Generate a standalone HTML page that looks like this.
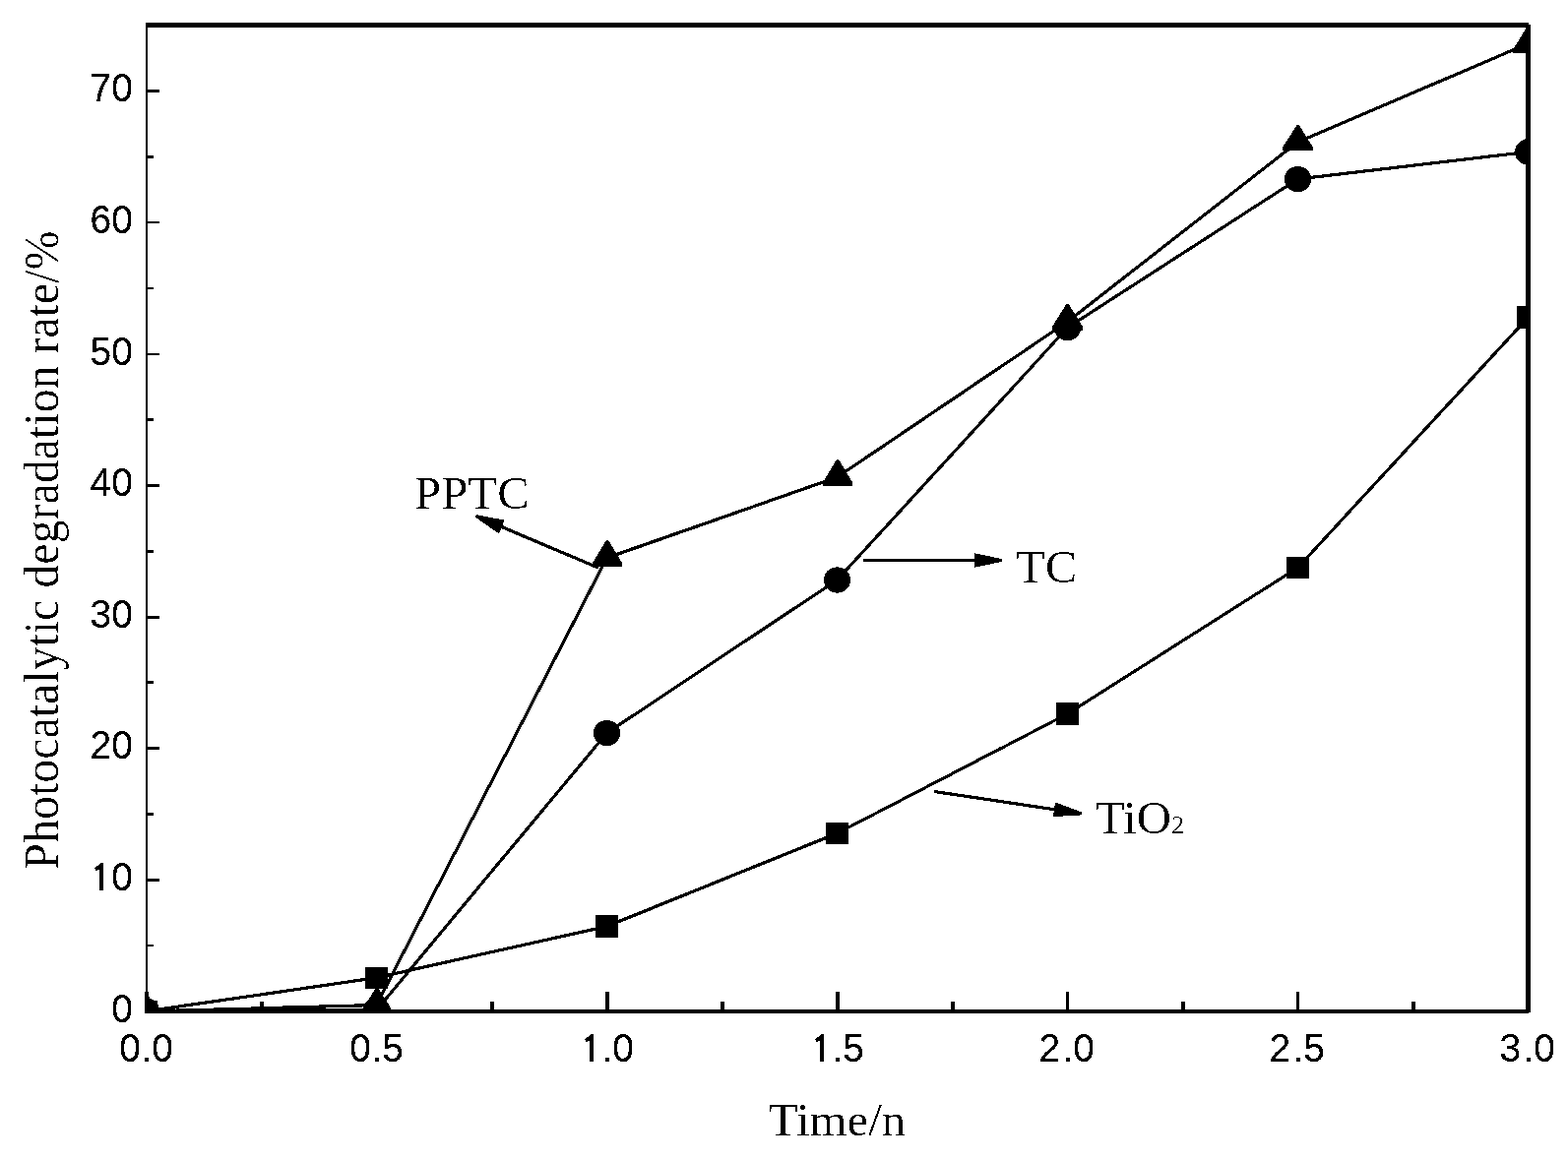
<!DOCTYPE html>
<html lang="en"><head><meta charset="utf-8"><title>Photocatalytic degradation rate</title>
<style>
html,body{margin:0;padding:0;background:#fff;}
body{width:1593px;height:1179px;overflow:hidden;}
svg{display:block;}
.sans{font-family:"Liberation Sans",sans-serif;font-size:39px;fill:#000;}
.serif{font-family:"Liberation Serif",serif;font-size:48px;fill:#000;}
.ln{fill:none;stroke:#000;stroke-width:3.0;stroke-linejoin:round;stroke-linecap:butt;}
.k{fill:#000;stroke:none;}
.one{font-family:"NanumGothic","Liberation Sans",sans-serif;font-size:35.5px;font-weight:bold;}
</style></head><body>
<svg width="1593" height="1179" viewBox="0 0 1593 1179" role="img" aria-label="Photocatalytic degradation rate versus time for PPTC, TC and TiO2">
<title>Photocatalytic degradation rate/% versus Time/n</title>
<desc>Line chart with three series, PPTC (triangles), TC (circles) and TiO2 (squares). X axis Time/n with ticks 0.0 0.5 1.0 1.5 2.0 2.5 3.0. Y axis Photocatalytic degradation rate/% with ticks 0 10 20 30 40 50 60 70.</desc>
<defs><clipPath id="plot"><rect x="147" y="23" width="1408" height="1007"/></clipPath><filter id="thr" filterUnits="userSpaceOnUse" x="0" y="0" width="1593" height="1179" color-interpolation-filters="sRGB"><feComponentTransfer><feFuncR type="discrete" tableValues="0 0 0 1 1"/><feFuncG type="discrete" tableValues="0 0 0 1 1"/><feFuncB type="discrete" tableValues="0 0 0 1 1"/></feComponentTransfer></filter><filter id="thr2" filterUnits="userSpaceOnUse" x="0" y="0" width="1593" height="1179" color-interpolation-filters="sRGB"><feComponentTransfer><feFuncA type="discrete" tableValues="0 0 0 1 1"/></feComponentTransfer></filter></defs>
<g filter="url(#thr)">
<rect x="0" y="0" width="1593" height="1179" fill="#fff"/>
<g clip-path="url(#plot)">
<polyline class="ln" points="148.5,1027.8 382.5,993.8 616.5,941.5 850.5,847.0 1084.5,725.5 1318.5,577.0 1552.5,322.4"/>
<polyline class="ln" points="148.5,1027.5 382.5,1026.7 616.5,745.0 850.5,589.6 1084.5,333.0 1318.5,182.0 1552.5,154.4"/>
<polyline class="ln" points="148.5,1028.0 382.5,1021.4 616.5,567.0 850.5,485.0 1084.5,327.0 1318.5,144.3 1552.5,44.2"/>
<rect class="k" x="137" y="1017" width="23" height="23"/>
<rect class="k" x="371" y="983" width="23" height="22"/>
<rect class="k" x="605" y="930" width="23" height="23"/>
<rect class="k" x="839" y="836" width="23" height="22"/>
<rect class="k" x="1073" y="714" width="23" height="23"/>
<rect class="k" x="1307" y="566" width="23" height="22"/>
<rect class="k" x="1541" y="311" width="23" height="23"/>
<ellipse class="k" cx="148.5" cy="1027.5" rx="13.5" ry="13.1"/>
<ellipse class="k" cx="382.5" cy="1026.7" rx="13.5" ry="13.1"/>
<ellipse class="k" cx="616.5" cy="745.0" rx="13.5" ry="13.1"/>
<ellipse class="k" cx="850.5" cy="589.6" rx="13.5" ry="13.1"/>
<ellipse class="k" cx="1084.5" cy="333.0" rx="13.5" ry="13.1"/>
<ellipse class="k" cx="1318.5" cy="182.0" rx="13.5" ry="13.1"/>
<ellipse class="k" cx="1552.5" cy="154.4" rx="13.5" ry="13.1"/>
<polygon class="k" points="147.5,1010.0 149.5,1010.0 163.5,1033.7 163.5,1037.0 133.5,1037.0 133.5,1033.7"/>
<polygon class="k" points="382.0,1003.4 384.0,1003.4 398.0,1027.1 398.0,1030.4 368.0,1030.4 368.0,1027.1"/>
<polygon class="k" points="616.0,549.0 618.0,549.0 632.0,572.4 632.0,575.7 602.0,575.7 602.0,572.4"/>
<polygon class="k" points="850.0,467.0 852.0,467.0 866.0,490.5 866.0,493.8 836.0,493.8 836.0,490.5"/>
<polygon class="k" points="1083.5,309.0 1085.5,309.0 1100.0,332.3 1100.0,335.6 1069.0,335.6 1069.0,332.3"/>
<polygon class="k" points="1317.7,127.0 1319.7,127.0 1334.0,149.9 1334.0,153.2 1303.0,153.2 1303.0,149.9"/>
<polygon class="k" points="1551.5,27.0 1553.5,27.0 1568.0,50.7 1568.0,54.0 1537.0,54.0 1537.0,50.7"/>
</g>
<g class="k" shape-rendering="crispEdges">
<rect x="148" y="23" width="1405" height="5"/>
<rect x="148" y="23" width="2" height="1007"/>
<rect x="1550" y="25" width="5" height="1004"/>
<rect x="147" y="1026" width="1406" height="4"/>
<rect x="150" y="960" width="6" height="2"/>
<rect x="150" y="893" width="12" height="3"/>
<rect x="150" y="826" width="6" height="3"/>
<rect x="150" y="759" width="12" height="3"/>
<rect x="150" y="692" width="6" height="3"/>
<rect x="150" y="626" width="12" height="3"/>
<rect x="150" y="559" width="6" height="3"/>
<rect x="150" y="492" width="12" height="3"/>
<rect x="150" y="425" width="6" height="3"/>
<rect x="150" y="359" width="12" height="2"/>
<rect x="150" y="292" width="6" height="2"/>
<rect x="150" y="225" width="12" height="2"/>
<rect x="150" y="158" width="6" height="3"/>
<rect x="150" y="91" width="12" height="3"/>
<rect x="147" y="1008" width="4" height="18"/>
<rect x="264" y="1018" width="4" height="8"/>
<rect x="381" y="1008" width="4" height="18"/>
<rect x="498" y="1018" width="4" height="8"/>
<rect x="615" y="1008" width="4" height="18"/>
<rect x="732" y="1018" width="4" height="8"/>
<rect x="849" y="1008" width="4" height="18"/>
<rect x="966" y="1018" width="4" height="8"/>
<rect x="1083" y="1008" width="3" height="18"/>
<rect x="1200" y="1018" width="4" height="8"/>
<rect x="1317" y="1008" width="3" height="18"/>
<rect x="1434" y="1018" width="4" height="8"/>
<rect x="1551" y="1008" width="4" height="18"/>
</g>
<g class="sans">
<text transform="translate(135,1038.7) scale(1.0,1.037)" x="-21.69">0</text>
<text transform="translate(135,905.1) scale(1.0,1.037)" x="-43.30 -21.70"><tspan class="one">1</tspan>0</text>
<text transform="translate(135,771.4) scale(1.0,1.037)" x="-43.38 -21.70">20</text>
<text transform="translate(135,637.8) scale(1.0,1.037)" x="-43.38 -21.70">30</text>
<text transform="translate(135,504.1) scale(1.0,1.037)" x="-43.38 -21.70">40</text>
<text transform="translate(135,370.5) scale(1.0,1.037)" x="-43.38 -21.70">50</text>
<text transform="translate(135,236.9) scale(1.0,1.037)" x="-43.38 -21.70">60</text>
<text transform="translate(135,103.2) scale(1.0,1.037)" x="-43.38 -21.70">70</text>
</g>
<g class="sans">
<text transform="translate(148.5,1079) scale(1.0,1.037)" x="-27.20 -4.42 5.80">0.0</text>
<text transform="translate(382.5,1079) scale(1.0,1.037)" x="-27.20 -4.42 5.80">0.5</text>
<text transform="translate(616.5,1079) scale(1.0,1.037)" x="-26.67 -4.42 5.80"><tspan class="one">1</tspan>.0</text>
<text transform="translate(850.5,1079) scale(1.0,1.037)" x="-26.67 -4.42 5.80"><tspan class="one">1</tspan>.5</text>
<text transform="translate(1084.5,1079) scale(1.0,1.037)" x="-28.91 -4.42 5.80">2.0</text>
<text transform="translate(1318.5,1079) scale(1.0,1.037)" x="-28.91 -4.42 5.80">2.5</text>
<text transform="translate(1552.5,1079) scale(1.0,1.037)" x="-28.91 -4.42 5.80">3.0</text>
</g>
<line class="ln" style="stroke-width:3" x1="608.0" y1="577.2" x2="507.8" y2="534.7"/><polygon class="k" points="483.9,523.3 512.5,528.8 506.8,542.2 482.9,525.5"/>
<line class="ln" style="stroke-width:3" x1="877.0" y1="569.5" x2="991.8" y2="569.5"/><polygon class="k" points="1018.3,570.7 989.8,576.8 989.8,562.2 1018.3,568.3"/>
<line class="ln" style="stroke-width:3" x1="949.2" y1="804.5" x2="1073.1" y2="823.1"/><polygon class="k" points="1099.1,828.2 1070.0,829.9 1072.2,815.6 1099.5,825.8"/>
</g>
<g filter="url(#thr2)">
<text class="serif" transform="translate(850.50,1154.20) scale(1.0180,0.9850)" text-anchor="middle">Time/n</text>
<text class="serif" transform="translate(59.00,559.10) rotate(-90) scale(0.9980,1.0500)" text-anchor="middle">Photocatalytic degradation rate/%</text>
<text class="serif" transform="translate(421.00,517.40) scale(1.0180,0.9850)" text-anchor="start">PPTC</text>
<text class="serif" transform="translate(1032.00,591.70) scale(1.0180,0.9850)" text-anchor="start">TC</text>
<text class="serif" transform="translate(1113.00,846.90) scale(1.0180,0.9850)" text-anchor="start">TiO<tspan font-size="26px">2</tspan></text>
</g>
</svg></body></html>
